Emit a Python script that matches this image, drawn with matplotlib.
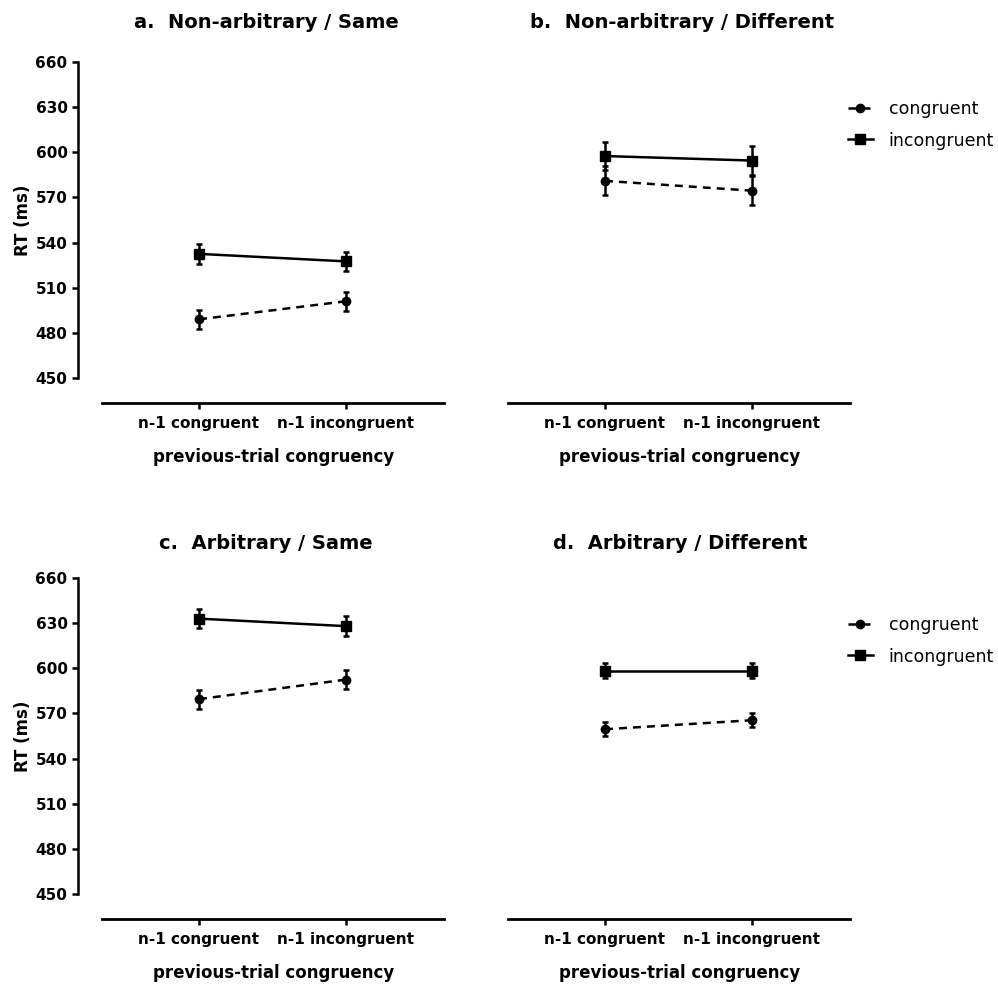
import matplotlib
matplotlib.use("Agg")
import matplotlib.pyplot as plt

# data
conditions = ["n-1 congruent", "n-1 incongruent"]
titles = ["a.  Non-arbitrary / Same", "b.  Non-arbitrary / Different",
          "c.  Arbitrary / Same", "d.  Arbitrary / Different"]
series_names = ["congruent", "incongruent"]

cong_mean = [[489, 501], [581, 574.5], [579.5, 592.5], [559.5, 565.5]]
cong_err = [[6.3, 6.3], [9.7, 9.7], [6.3, 6.3], [4.7, 4.7]]
incong_mean = [[532.5, 527.5], [597.5, 594.5], [633, 628], [598.5, 598.5]]
incong_err = [[6.5, 6.5], [9.5, 9.7], [6.5, 6.5], [4.7, 4.7]]

yticks = [450, 480, 510, 540, 570, 600, 630, 660]

W, H = 998, 988
fig = plt.figure(figsize=(W / 100, H / 100), dpi=100)

# panel boxes in pixels: left, bottom-axis y, top y
boxes = [(78, 403, 62), (484, 403, 62), (78, 919, 578), (484, 919, 578)]
title_x = [266, 682, 266, 680]
title_y = [22, 22, 543, 543]

x = [0, 1]
for i, (left, bot, top) in enumerate(boxes):
    ax = fig.add_axes([left / W, 1 - bot / H, 366 / W, (bot - top) / H])
    ax.set_xlim(-0.823, 1.667)
    ax.set_ylim(433.4, 660)

    kw = dict(color="black", lw=1.8, elinewidth=1.8, capsize=2.5, capthick=1.8,
              clip_on=False)
    hc = ax.errorbar(x, cong_mean[i], yerr=cong_err[i], marker="o", ms=6,
                     ls="--", dashes=(3.2, 2.4), **kw)
    hi = ax.errorbar(x, incong_mean[i], yerr=incong_err[i], marker="s", ms=6.5,
                     ls="-", **kw)

    for s in ["top", "right"]:
        ax.spines[s].set_visible(False)
    ax.spines["bottom"].set_linewidth(2)
    ax.spines["bottom"].set_bounds(-0.66, 1.667)
    ax.set_xticks(x)
    ax.set_xticklabels(conditions, fontsize=11, fontweight="bold")
    ax.tick_params(axis="x", length=4.5, width=1.8, pad=5)
    ax.set_xlabel("previous-trial congruency", fontsize=12, fontweight="bold")
    ax.xaxis.set_label_coords(0.535, -0.132)

    if i in (0, 2):
        ax.spines["left"].set_linewidth(1.8)
        ax.spines["left"].set_bounds(450, 660)
        ax.set_yticks(yticks)
        ax.set_yticklabels([str(v) for v in yticks], fontsize=11, fontweight="bold")
        ax.tick_params(axis="y", length=4.5, width=1.8, pad=3)
        ax.set_ylabel("RT (ms)", fontsize=12, fontweight="bold")
        ax.yaxis.set_label_coords(-0.126, 0.537)
    else:
        ax.spines["left"].set_visible(False)
        ax.set_yticks([])
        ax.legend([hc[0], hi[0]], series_names, loc="upper left",
                  bbox_to_anchor=(0.994, 0.888), frameon=False, fontsize=12.5,
                  handlelength=1.45, handletextpad=0.9, labelspacing=0.77,
                  borderpad=0, borderaxespad=0)

    fig.text(title_x[i] / W, 1 - title_y[i] / H, titles[i], ha="center",
             va="center", fontsize=14, fontweight="bold")

fig.savefig("out.png", dpi=100)
